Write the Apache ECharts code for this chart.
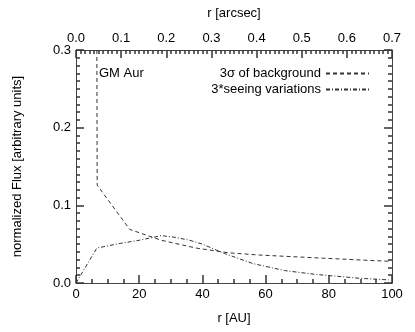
<!DOCTYPE html>
<html>
<head>
<meta charset="utf-8">
<script src="https://cdn.jsdelivr.net/npm/echarts@6/dist/echarts.min.js"></script>
<style>
  html, body { margin: 0; padding: 0; background: #fff; }
  #chart { width: 415px; height: 332px; }
</style>
</head>
<body>
<div id="chart"></div>
<script>
// 3 sigma of background (dashed)
const bgR = [6.6, 6.7, 17, 27, 38, 48, 58, 68, 78, 88, 99];
const bgFlux = [0.30, 0.126, 0.069, 0.055, 0.045, 0.039, 0.036, 0.034, 0.032, 0.030, 0.028];

// 3*seeing variations (dash-dot)
const seeR = [0, 6.6, 14, 20, 27, 31, 36, 40, 47, 56, 66, 76, 90, 99];
const seeFlux = [0.0, 0.045, 0.051, 0.055, 0.061, 0.059, 0.055, 0.050, 0.038, 0.025, 0.016, 0.011, 0.006, 0.004];

const seriesNames = ["3σ of background", "3*seeing variations"];
const FONT = "Liberation Sans";

const chart = echarts.init(document.getElementById("chart"), null, { renderer: "canvas" });

// IDL style box: ticks point inward on all four sides
function tickAxis(splitNumber) {
	return {
		axisLine: { show: true, onZero: false, lineStyle: { color: "#444", width: 1 } },
		axisTick: { show: true, inside: true, length: 8, lineStyle: { color: "#333", width: 1.5 } },
		minorTick: { show: true, splitNumber, length: 4, lineStyle: { color: "#333", width: 1.5 } },
		splitLine: { show: false },
		nameTextStyle: { color: "#000", fontFamily: FONT, fontSize: 13 },
	};
}
const labelStyle = { color: "#000", fontFamily: FONT, fontSize: 13, margin: 5 };

const option = {
	animation: false,
	grid: { left: 76, right: 23, top: 50, bottom: 49, containLabel: false },
	title: {
		text: "GM Aur",
		left: 94,
		top: 62,
		textStyle: { fontFamily: FONT, fontSize: 13, fontWeight: "normal", color: "#000" },
	},
	legend: {
		data: seriesNames,
		orient: "vertical",
		align: "right",
		right: 40,
		top: 62,
		itemWidth: 43,
		itemHeight: 8,
		itemGap: 3,
		itemStyle: { opacity: 0 },
		textStyle: { fontFamily: FONT, fontSize: 13, color: "#000" },
	},
	xAxis: [
		{
			...tickAxis(4),
			type: "value",
			position: "bottom",
			min: 0,
			max: 100,
			interval: 20,
			name: "r [AU]",
			nameLocation: "middle",
			nameGap: 29,
			axisLabel: labelStyle,
		},
		{
			...tickAxis(10),
			type: "value",
			position: "top",
			min: 0,
			max: 0.7,
			interval: 0.1,
			name: "r [arcsec]",
			nameLocation: "middle",
			nameGap: 30,
			axisLabel: { ...labelStyle, formatter: (v) => v.toFixed(1) },
		},
	],
	yAxis: [
		{
			...tickAxis(10),
			type: "value",
			position: "left",
			min: 0,
			max: 0.3,
			interval: 0.1,
			name: "normalized Flux [arbitrary units]",
			nameLocation: "middle",
			nameGap: 52,
			axisLabel: { ...labelStyle, formatter: (v) => v.toFixed(1) },
		},
		{
			...tickAxis(10),
			type: "value",
			position: "right",
			min: 0,
			max: 0.3,
			interval: 0.1,
			axisLabel: { show: false },
		},
	],
	series: [
		{
			name: seriesNames[0],
			type: "line",
			xAxisIndex: 0,
			yAxisIndex: 0,
			symbol: "none",
			clip: true,
			data: bgR.map((r, i) => [r, bgFlux[i]]),
			lineStyle: { color: "#333", width: 1, type: [4, 3] },
			itemStyle: { color: "#333" },
		},
		{
			name: seriesNames[1],
			type: "line",
			xAxisIndex: 0,
			yAxisIndex: 0,
			symbol: "none",
			clip: true,
			data: seeR.map((r, i) => [r, seeFlux[i]]),
			lineStyle: { color: "#333", width: 1, type: [4, 2, 1, 2] },
			itemStyle: { color: "#333" },
		},
	],
};

chart.setOption(option);
</script>
</body>
</html>
